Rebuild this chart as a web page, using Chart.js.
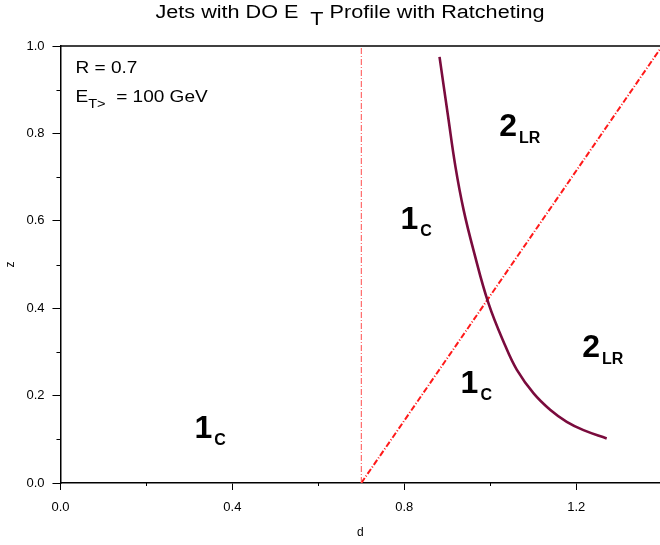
<!DOCTYPE html>
<html>
<head>
<meta charset="utf-8">
<script src="https://cdn.jsdelivr.net/npm/chart.js@4.4.1/dist/chart.umd.min.js"></script>
<style>
  html, body { margin: 0; padding: 0; background: #fff; }
  #wrap { width: 660px; height: 545px; }
</style>
</head>
<body>
<div id="wrap"><canvas id="chart" width="660" height="545"></canvas></div>
<script>
// solid boundary curve (d, z)
const curveD = [0.882, 0.902, 0.919, 0.938, 0.961, 0.996, 1.035, 1.062, 1.101, 1.140, 1.178, 1.217, 1.271];
const curveZ = [0.975, 0.838, 0.724, 0.625, 0.533, 0.411, 0.314, 0.259, 0.205, 0.167, 0.140, 0.121, 0.102];

// dash-dot lines: d = R and d = R(1+z)
const vertD = [0.7, 0.7];
const vertZ = [0.0, 1.0];
const diagD = [0.7, 1.4];
const diagZ = [0.0, 1.0];

// region labels
const regionNum = ['2', '1', '1', '2', '1'];
const regionSub = ['LR', 'C', 'C', 'LR', 'C'];
const regionD = [1.021, 0.791, 0.931, 1.214, 0.312];
const regionZ = [0.793, 0.581, 0.207, 0.289, 0.103];

const xTicksShown = [0.0, 0.4, 0.8, 1.2];
const yTicksShown = [0.0, 0.2, 0.4, 0.6, 0.8, 1.0];

const FONT = '"Liberation Sans", Arial, sans-serif';
const STRETCH = 1.2;

function pts(xs, ys) {
    return xs.map((x, i) => ({ x: x, y: ys[i] }));
}

function isShown(list, v) {
    return list.some(t => Math.abs(t - v) < 1e-6);
}

const textPlugin = {
    id: 'textPlugin',
    afterDraw(chart) {
        const ctx = chart.ctx;
        const area = chart.chartArea;
        const xs = chart.scales.x;
        const ys = chart.scales.y;

        ctx.save();
        ctx.strokeStyle = '#000';
        // top border of the frame
        ctx.lineWidth = 1.5;
        ctx.beginPath();
        ctx.moveTo(area.left, area.top);
        ctx.lineTo(area.right, area.top);
        ctx.stroke();
        // short minor ticks
        ctx.lineWidth = 1;
        ctx.beginPath();
        xs.ticks.forEach(t => {
            if (isShown(xTicksShown, t.value)) return;
            const px = Math.round(xs.getPixelForValue(t.value)) + 0.5;
            ctx.moveTo(px, area.bottom);
            ctx.lineTo(px, area.bottom + 3);
        });
        ys.ticks.forEach(t => {
            if (isShown(yTicksShown, t.value)) return;
            const py = Math.round(ys.getPixelForValue(t.value)) + 0.5;
            ctx.moveTo(area.left, py);
            ctx.lineTo(area.left - 4, py);
        });
        ctx.stroke();
        ctx.restore();

        // title with subscript T
        ctx.save();
        ctx.fillStyle = '#000';
        ctx.textBaseline = 'alphabetic';
        ctx.font = '18px ' + FONT;
        const t1 = 'Jets with DO E  ';
        const t2 = ' Profile with Ratcheting';
        const w1 = ctx.measureText(t1).width;
        const wT = ctx.measureText('T').width;
        const w2 = ctx.measureText(t2).width;
        ctx.translate(350, 0);
        ctx.scale(STRETCH, 1);
        const x0 = -(w1 + wT + w2) / 2;
        ctx.fillText(t1, x0, 18);
        ctx.fillText('T', x0 + w1, 25);
        ctx.fillText(t2, x0 + w1 + wT, 18);
        ctx.restore();

        // parameter box
        ctx.save();
        ctx.fillStyle = '#000';
        ctx.font = '17px ' + FONT;
        ctx.translate(area.left + 15, 0);
        ctx.scale(1.12, 1);
        ctx.fillText('R = 0.7', 0, 73);
        ctx.fillText('E', 0, 102);
        const wE = ctx.measureText('E').width;
        ctx.font = '13px ' + FONT;
        ctx.fillText('T>', wE, 108);
        const wS = ctx.measureText('T>').width;
        ctx.font = '17px ' + FONT;
        ctx.fillText('  = 100 GeV', wE + wS, 102);
        ctx.restore();

        // region labels
        ctx.save();
        ctx.fillStyle = '#000';
        for (let i = 0; i < regionNum.length; i++) {
            const px = xs.getPixelForValue(regionD[i]);
            const py = ys.getPixelForValue(regionZ[i]);
            ctx.font = 'bold 32px ' + FONT;
            ctx.fillText(regionNum[i], px, py);
            const w = ctx.measureText(regionNum[i]).width;
            ctx.font = 'bold 16px ' + FONT;
            ctx.fillText(regionSub[i], px + w + 2, py + 7);
        }
        ctx.restore();
    }
};

const ctx = document.getElementById('chart').getContext('2d');
const chart = new Chart(ctx, {
    type: 'scatter',
    data: {
        datasets: [
            {
                data: pts(curveD, curveZ),
                showLine: true,
                borderColor: '#7a0b3d',
                borderWidth: 2.6,
                pointRadius: 0,
                tension: 0.4
            },
            {
                data: pts(vertD, vertZ),
                showLine: true,
                borderColor: '#ff4d4d',
                borderWidth: 1,
                borderDash: [6, 2, 1, 2],
                pointRadius: 0
            },
            {
                data: pts(diagD, diagZ),
                showLine: true,
                borderColor: '#ff1a1a',
                borderWidth: 2,
                borderDash: [6, 2, 1, 2],
                pointRadius: 0
            }
        ]
    },
    options: {
        responsive: false,
        animation: false,
        layout: { padding: { top: 46, right: 0, bottom: 4, left: 0 } },
        plugins: {
            legend: { display: false },
            tooltip: { enabled: false }
        },
        scales: {
            x: {
                type: 'linear',
                min: 0,
                max: 1.395,
                afterBuildTicks: (scale) => {
                    scale.ticks = scale.ticks.filter(t => t.value <= 1.3);
                },
                ticks: {
                    stepSize: 0.2,
                    color: '#000',
                    padding: 10,
                    maxRotation: 0,
                    autoSkip: false,
                    font: { family: FONT, size: 13 },
                    callback: (v) => isShown(xTicksShown, v) ? v.toFixed(1) : ''
                },
                grid: {
                    drawOnChartArea: false,
                    drawTicks: true,
                    tickLength: 7,
                    tickColor: (c) => isShown(xTicksShown, c.tick.value) ? '#000' : 'rgba(0,0,0,0)'
                },
                border: { display: true, color: '#000', width: 1.5 },
                title: {
                    display: true,
                    text: 'd',
                    color: '#000',
                    font: { family: FONT, size: 12 },
                    padding: { top: 0, bottom: 1 }
                }
            },
            y: {
                type: 'linear',
                min: 0,
                max: 1,
                ticks: {
                    stepSize: 0.1,
                    color: '#000',
                    padding: 8,
                    autoSkip: false,
                    font: { family: FONT, size: 13 },
                    callback: (v) => isShown(yTicksShown, v) ? v.toFixed(1) : ''
                },
                grid: {
                    drawOnChartArea: false,
                    drawTicks: true,
                    tickLength: 8,
                    tickColor: (c) => isShown(yTicksShown, c.tick.value) ? '#000' : 'rgba(0,0,0,0)'
                },
                border: { display: true, color: '#000', width: 1.5 },
                title: {
                    display: true,
                    text: 'z',
                    color: '#000',
                    font: { family: FONT, size: 12 },
                    padding: { top: 3, bottom: 1 }
                }
            }
        }
    },
    plugins: [textPlugin]
});
</script>
</body>
</html>
